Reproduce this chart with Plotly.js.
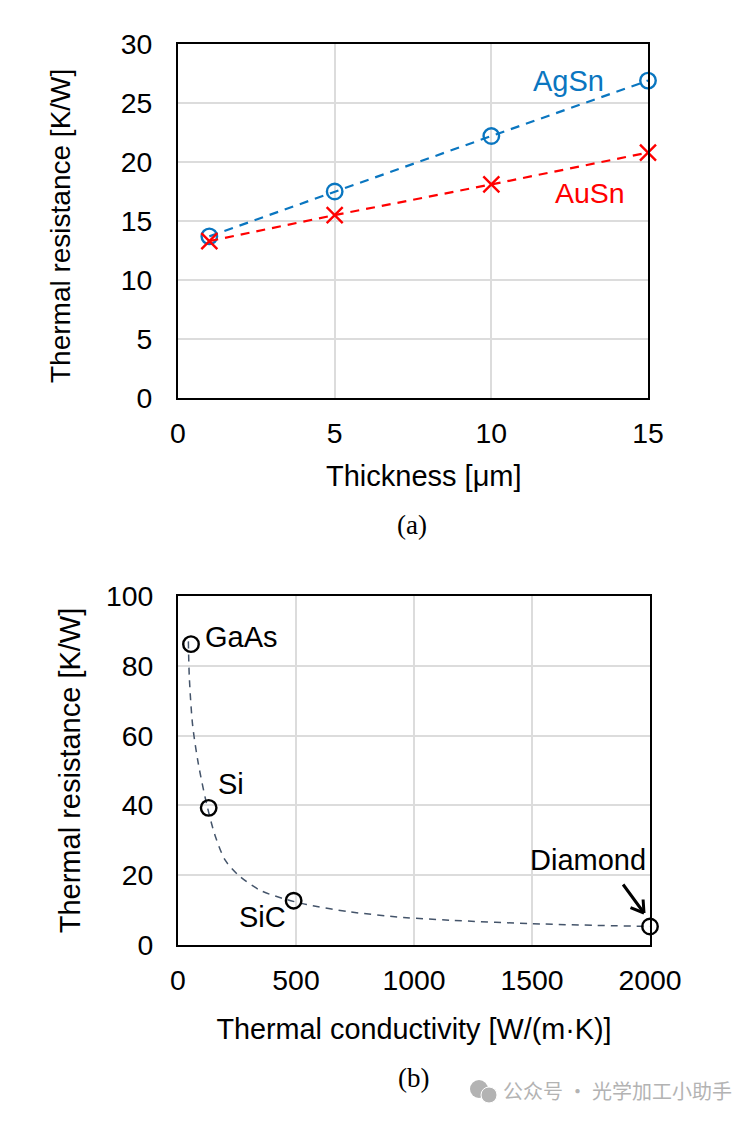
<!DOCTYPE html>
<html>
<head>
<meta charset="utf-8">
<script src="https://cdn.plot.ly/plotly-3.0.1.min.js"></script>
<style>html,body{margin:0;padding:0;background:#fff}</style>
</head>
<body>
<div id="chart" style="width:755px;height:1121px"></div>
<script>
const thickness = [1, 5, 10, 15];
const agSn = [13.7, 17.5, 22.2, 26.9];
const auSn = [13.3, 15.5, 18.1, 20.8];
const curveK = [44, 48, 62, 86, 121, 157, 200, 256, 347, 446, 545, 729, 955, 1153, 1500, 2000];
const curveR = [87, 76.7, 63, 52, 40.5, 31.4, 24.3, 20, 15.7, 13.3, 11.6, 9.5, 7.9, 7.1, 6.1, 5.3];
const matK = [55, 130, 490, 2000];
const matR = [86.2, 39.3, 12.7, 5.3];

const W = 755, H = 1121;
const px = v => v / W, py = v => 1 - v / H;
const FONT = '"Liberation Sans", Arial, sans-serif';
const BLUE = '#0a76c0', RED = '#ff0000', DARK = '#44546a', GRID = '#dcdcdc';

function axis(extra) {
  return Object.assign({
    showline: true, mirror: true, linecolor: '#000', linewidth: 2,
    showgrid: true, gridcolor: GRID, gridwidth: 2, zeroline: false,
    ticks: '', tickfont: {family: FONT, size: 28.4, color: '#000'},
    fixedrange: true
  }, extra);
}
const traces = [
  {x: thickness, y: agSn, mode: 'lines+markers', cliponaxis: false,
   line: {color: BLUE, width: 2.2, dash: '9px,7px'},
   marker: {symbol: 'circle-open', size: 15.5, color: BLUE, line: {color: BLUE, width: 2.4}}},
  {x: thickness, y: auSn, mode: 'lines+markers', cliponaxis: false,
   line: {color: RED, width: 2.2, dash: '9px,7px'},
   marker: {symbol: 'x-thin-open', size: 16, color: RED, line: {color: RED, width: 2.4}}},
  {x: curveK, y: curveR, xaxis: 'x2', yaxis: 'y2', mode: 'lines', cliponaxis: false,
   line: {color: DARK, width: 1.5, dash: '7px,6px', shape: 'spline', smoothing: 0.8}},
  {x: matK, y: matR, xaxis: 'x2', yaxis: 'y2', mode: 'markers', cliponaxis: false,
   marker: {symbol: 'circle-open', size: 15.5, color: '#000', line: {color: '#000', width: 2.4}}}
];
function label(text, x, y, color, ref, size) {
  return {text, x, y, xref: 'x' + ref, yref: 'y' + ref, showarrow: false,
          xanchor: 'left', yanchor: 'middle', font: {family: FONT, size: size || 29, color}};
}
function paperText(text, x, y, size, family, color, angle) {
  return {text, x: px(x), y: py(y), xref: 'paper', yref: 'paper', showarrow: false,
          textangle: angle || 0, xanchor: 'center', yanchor: 'middle', font: {family, size, color}};
}
function stroke(x, y, dx, dy) {
  return {x: px(x), y: py(y), xref: 'paper', yref: 'paper', ax: dx, ay: dy, text: '',
          showarrow: true, arrowhead: 0, arrowwidth: 3, arrowcolor: '#000', standoff: 0};
}
const layout = {
  width: W, height: H, margin: {l: 0, r: 0, t: 0, b: 0},
  paper_bgcolor: '#fff', plot_bgcolor: '#fff', showlegend: false,
  xaxis: axis({domain: [px(178), px(648)], range: [0, 15], tickvals: [0, 5, 10, 15],
    anchor: 'y', ticklabelstandoff: 9}),
  yaxis: axis({domain: [py(398), py(44)], range: [0, 30], tickvals: [0, 5, 10, 15, 20, 25, 30],
    anchor: 'x', ticklabelstandoff: 18}),
  xaxis2: axis({domain: [px(178), px(650)], range: [0, 2000], tickvals: [0, 500, 1000, 1500, 2000],
    anchor: 'y2', ticklabelstandoff: 9,
    title: {text: 'Thermal conductivity [W/(m\u00b7K)]', standoff: 24, font: {family: FONT, size: 28.8, color: '#000'}}}),
  yaxis2: axis({domain: [py(945), py(596)], range: [0, 100], tickvals: [0, 20, 40, 60, 80, 100],
    anchor: 'x2', ticklabelstandoff: 17,
    title: {text: 'Thermal resistance [K/W]', standoff: 17, font: {family: FONT, size: 29, color: '#000'}}}),
  annotations: [
    paperText('Thickness [\u03bcm]', 424, 476, 29, FONT, '#000'),
    paperText('Thermal resistance [K/W]', 60, 226, 28, FONT, '#000', -90),
    label('AgSn', 11.28, 26.9, BLUE, ''),
    label('AuSn', 11.97, 17.4, RED, '', 28.5),
    label('GaAs', 108, 88.2, '#000', '2'),
    label('Si', 160, 46, '#000', '2'),
    label('SiC', 250, 8, '#000', '2'),
    label('Diamond', 1483, 24.5, '#000', '2'),
    stroke(644, 913, -22, -30),
    stroke(644, 913, -15, -6),
    stroke(644, 913, -1, -15),
    paperText('(a)', 412, 525, 27, '"Liberation Serif", serif', '#000'),
    paperText('(b)', 413, 1078, 27, '"Liberation Serif", serif', '#000'),
    paperText('\u516c\u4f17\u53f7 \u00b7 \u5149\u5b66\u52a0\u5de5\u5c0f\u52a9\u624b', 617, 1090, 20, '"Noto Sans CJK SC", sans-serif', '#b3b3b3')
  ],
  shapes: [
    {type: 'circle', xref: 'paper', yref: 'paper', x0: px(470), x1: px(488), y0: py(1098), y1: py(1080), fillcolor: '#b3b3b3', line: {width: 0}},
    {type: 'circle', xref: 'paper', yref: 'paper', x0: px(481), x1: px(497), y0: py(1103), y1: py(1087), fillcolor: '#b3b3b3', line: {color: '#fff', width: 1}}
  ]
};
Plotly.newPlot('chart', traces, layout, {displayModeBar: false, staticPlot: true});
</script>
</body>
</html>
